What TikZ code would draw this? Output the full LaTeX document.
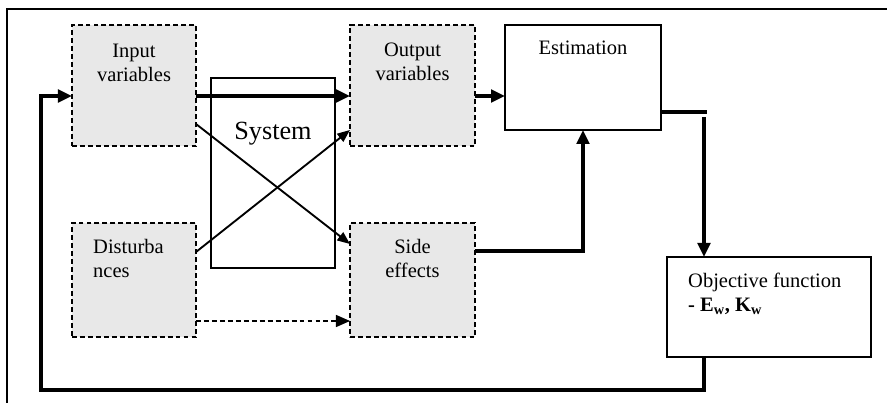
\documentclass[tikz,border=0pt]{standalone}
\usepackage{fontspec}
\setmainfont{Liberation Serif}
\usetikzlibrary{arrows.meta, calc}
\definecolor{PaleGray}{RGB}{232, 232, 232}

\begin{document}
\begin{tikzpicture}[x=0.03cm, y=-0.03cm,
    dbox/.style={rectangle, draw=black, fill=PaleGray, line width=1.1pt, dash pattern=on 4.2pt off 2.6pt, inner sep=0pt, outer sep=0pt},
    sbox/.style={rectangle, draw=black, fill=white, line width=1.6pt, inner sep=0pt, outer sep=0pt},
    lbl/.style={font=\fontsize{17.5}{20.4}\selectfont, inner sep=0pt, align=center},
    thk/.style={line width=2.6pt, -{Triangle[length=0.42cm, width=0.38cm]}},
    thn/.style={line width=1.6pt, -{Triangle[length=0.38cm, width=0.3cm]}},
    dsh/.style={line width=1.1pt, dash pattern=on 4.2pt off 2.6pt, -{Triangle[length=0.42cm, width=0.36cm]}}
]
    \useasboundingbox (0,0) rectangle (887,403);
    \draw[line width=1pt] (7,403) -- (7,9) -- (887,9);

    \node[sbox, minimum width=3.72cm, minimum height=5.7cm] (sys) at (273,173) {};
    \node[dbox, minimum width=3.72cm, minimum height=3.63cm] (inp) at (134,85.5) {};
    \node[dbox, minimum width=3.75cm, minimum height=3.63cm] (out) at (412.5,85.5) {};
    \node[dbox, minimum width=3.72cm, minimum height=3.42cm] (dst) at (134,280) {};
    \node[dbox, minimum width=3.75cm, minimum height=3.42cm] (sde) at (412.5,280) {};
    \node[sbox, minimum width=4.68cm, minimum height=3.15cm] (est) at (583,77.5) {};
    \node[sbox, minimum width=6.12cm, minimum height=3.0cm] (obj) at (769,307) {};

    \node[lbl, anchor=north] (inpT) at (134,43.5) {Input\\variables};
    \node[lbl, anchor=north] (outT) at (412.5,43) {Output\\variables};
    \node[lbl, anchor=north] (estT) at (583,41) {Estimation};
    \node[lbl, anchor=base, font=\fontsize{22.4}{26}\selectfont] (sysT) at (273,140) {System};
    \node[lbl, anchor=north west, align=left] (dstT) at (93,239) {Disturba\\nces};
    \node[lbl, anchor=north] (sdeT) at (412.5,239) {Side\\effects};
    \node[lbl, anchor=north west, align=left] (objT) at (688,273) {Objective function\\\textbf{- E\textsubscript{w}, K\textsubscript{w}}};

    \coordinate (tap) at (704,117);
    \coordinate (back) at (41,390);

    \draw[thk] ($(inp.east)+(0,10.5)$) -- ($(out.west)+(0,10.5)$);
    \draw[thk] ($(out.east)+(0,10.5)$) -- ($(est.west)+(0,18.5)$);
    \draw[thn] ($(inp.east)+(0,38.5)$) -- ($(sde.west)+(0,-36)$);
    \draw[thn] ($(dst.east)+(0,-28)$) -- ($(out.west)+(0,44.5)$);
    \draw[dsh] ($(dst.east)+(0,41)$) -- ($(sde.west)+(0,41)$);
    \draw[thk] ($(sde.east)+(0,-29)$) -| (est.south);
    \draw[line width=2.6pt] ($(est.east)+(0,34.5)$) -- ($(est.east)+(46,34.5)$);
    \draw[thk] (tap) -- (obj.north -| tap);
    \draw[thk] (obj.south -| tap) |- (back) |- ($(inp.west)+(0,10.5)$);
\end{tikzpicture}
\end{document}
